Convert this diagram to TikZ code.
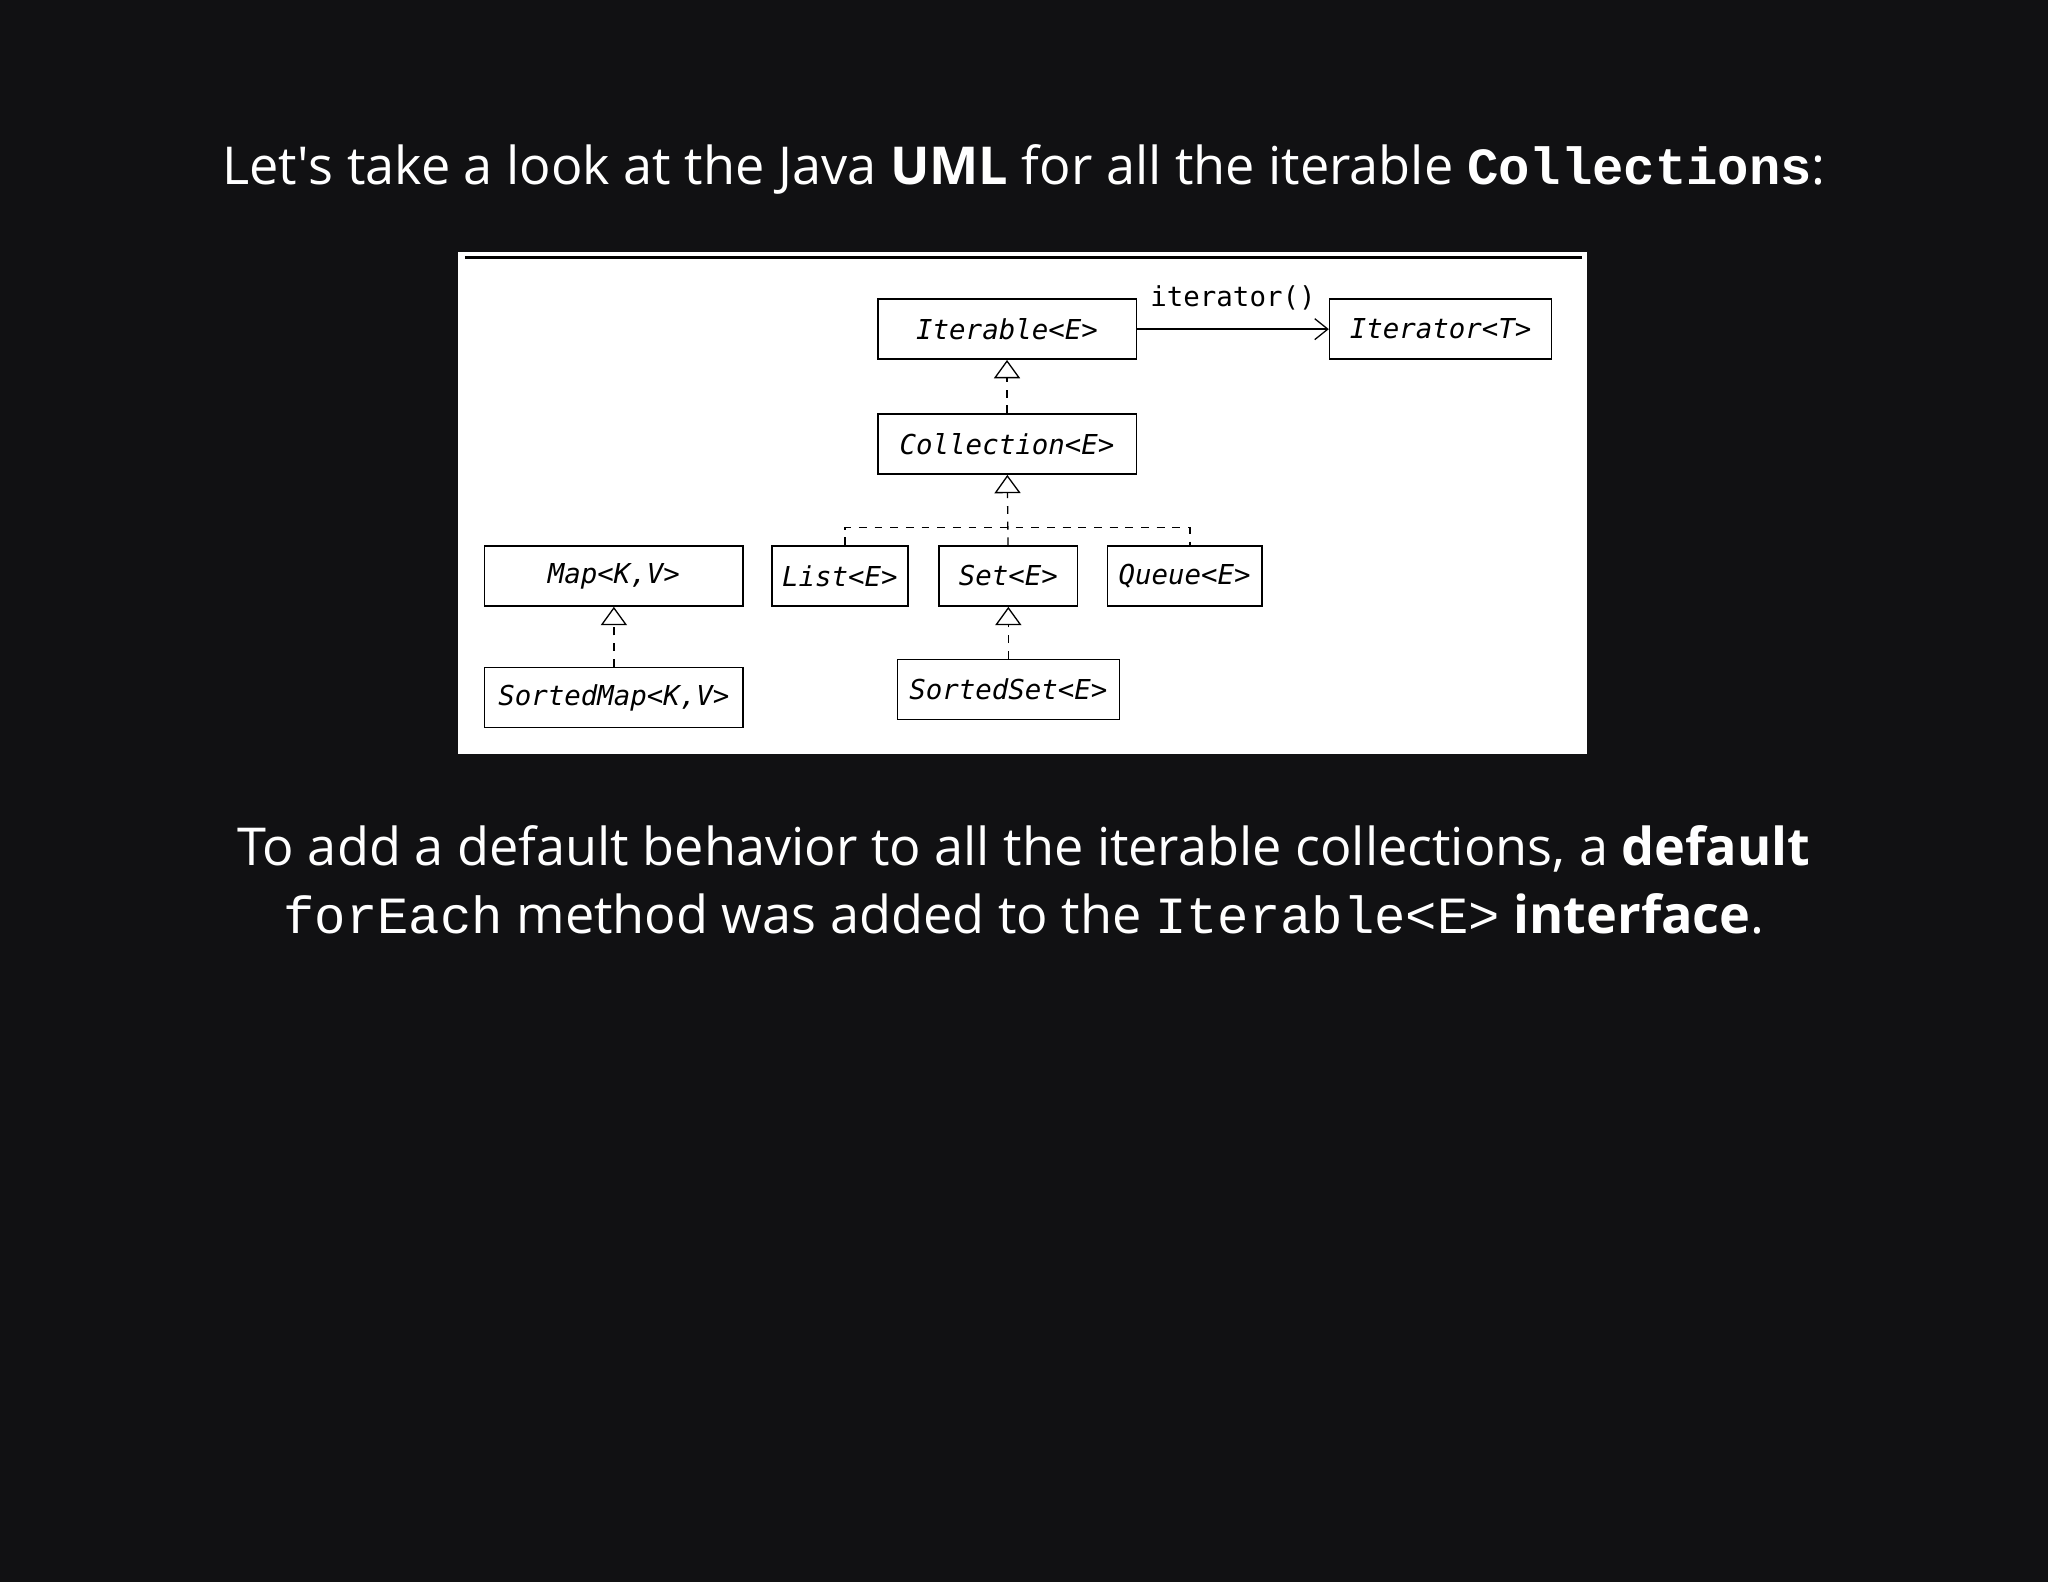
\documentclass[tikz,border=0pt]{standalone}
\usepackage{fontspec}
\setmainfont{Open Sans}
\setmonofont{Liberation Mono}
\newfontfamily\umlfont{DejaVu Sans Mono}
\usetikzlibrary{arrows.meta,positioning}
\definecolor{slidebg}{HTML}{111113}
\tikzset{x=0.5pt,y=-0.5pt,
  cls/.style={draw=black,line width=0.6pt,minimum height=23pt,inner sep=0pt,
    font=\umlfont\itshape\fontsize{10.5}{12}\selectfont,text=black},
  inherit/.style={dashed,line width=0.5pt,-{Triangle[open,length=7pt,width=10pt]}},
  bus/.style={dashed,line width=0.5pt},
  txt/.style={text=white,font=\fontsize{20}{26}\selectfont,inner sep=0pt}}
\begin{document}
\begin{tikzpicture}
  \fill[slidebg] (0,0) rectangle (1568,1211);
  \useasboundingbox (0,0) rectangle (1568,1211);
  \node[txt] (title) at (784,130) {Let\textquotesingle s take a look at the Java \textbf{UML} for all the iterable \texttt{\textbf{Collections}}:};
  % diagram panel
  \fill[white] (351,193) rectangle (1215,577);
  \draw[line width=1pt] (356,197) -- (1211,197);
  \node[cls,minimum width=99pt] (iterable) at (771,252) {Iterable<E>};
  \node[cls,minimum width=85pt] (iterator) at (1103,252) {Iterator<T>};
  \node[cls,minimum width=99pt] (collection) at (771,340) {Collection<E>};
  \node[cls,minimum width=99pt] (map) at (470,441) {Map<K,V>};
  \node[cls,minimum width=52pt] (list) at (643,441) {List<E>};
  \node[cls,minimum width=53pt] (set) at (772,441) {Set<E>};
  \node[cls,minimum width=59pt] (queue) at (907,441) {Queue<E>};
  \node[cls,minimum width=99pt] (sortedmap) at (470,534) {SortedMap<K,V>};
  \node[cls,minimum width=85pt] (sortedset) at (772,528) {SortedSet<E>};
  \draw[line width=0.5pt,-{Straight Barb[length=5pt,width=8pt]}] (iterable) -- node[midway,above=7pt,font=\umlfont\fontsize{10.5}{12}\selectfont,inner sep=0pt] {iterator()} (iterator);
  \draw[inherit] (collection) -- (iterable);
  \coordinate (busl) at (647,404);
  \coordinate (busr) at (911,404);
  \draw[bus] (list.north -| busl) -- (busl) -- (busr) -- (queue.north -| busr);
  \draw[inherit] (set) -- (collection);
  \draw[inherit] (sortedmap) -- (map);
  \draw[inherit] (sortedset) -- (set);
  \node[txt] (line1) at (784,650) {To add a default behavior to all the iterable collections, a \textbf{default}};
  \node[txt] (line2) at (784,700) {\texttt{forEach} method was added to the \texttt{Iterable<E>} \textbf{interface}.};
\end{tikzpicture}
\end{document}
